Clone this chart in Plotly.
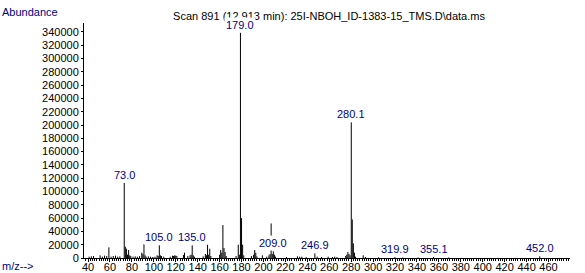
import plotly.graph_objects as go

# m/z values and abundances
mz = [41, 43, 45, 51, 53, 55, 57, 59, 61, 63, 65, 67, 69,
      73.0, 74, 75, 76, 77, 78, 79, 81, 83, 85, 87, 89, 90, 91, 92, 93, 95, 97, 99,
      101, 103, 104, 105.0, 106, 107, 109, 115, 117, 118, 119, 120, 121,
      127, 128, 131, 133, 134, 135.0, 136, 137, 145, 147, 148, 149, 150, 151, 152,
      160, 161, 162, 163, 164, 165, 166, 175, 177, 178, 179.0, 180, 181, 182,
      189, 191, 192, 193, 194, 199, 203, 205, 206, 207, 208, 209.0, 210, 211,
      221, 231, 233, 235, 239, 246.9, 249, 253, 259, 263, 265, 267,
      275, 276, 277, 278, 279, 280.1, 281, 282, 283, 284, 291, 293,
      305, 319.9, 327, 341, 355.1, 369, 452.0]
abundance = [2000, 2500, 3000, 4000, 2000, 3500, 3000, 16000, 2000, 3000, 3500, 2000, 2500,
             113000, 17000, 14000, 5000, 12000, 4000, 3000, 2000, 2500, 2000, 3000, 8000, 6000, 21000, 4000, 2000, 2500, 2000, 1500,
             2000, 4000, 3000, 19000, 4000, 3000, 2000, 2000, 3500, 3000, 4000, 3500, 3000,
             4500, 8000, 3000, 4000, 5000, 19000, 4000, 2000, 2500, 6000, 4000, 20000, 5000, 14000, 3000,
             5000, 12000, 8000, 49500, 15000, 9000, 3000, 3000, 20000, 5000, 339000, 60000, 20000, 4000,
             3000, 5000, 12000, 8000, 2500, 4000, 2000, 4000, 6000, 52000, 6000, 10000, 5000, 2000,
             1500, 2500, 2000, 2000, 1500, 7000, 2000, 1500, 2000, 1500, 2000, 1500,
             3000, 5000, 9000, 6000, 4000, 204000, 58000, 22000, 8000, 2000, 4000, 1500,
             1000, 1500, 800, 800, 1500, 800, 2500]

labeled_mz = [73.0, 105.0, 135.0, 179.0, 209.0, 246.9, 280.1, 319.9, 355.1, 452.0]

y_ticks = list(range(0, 340001, 20000))
x_ticks = list(range(40, 461, 20))

title_text = "Scan 891 (12.913 min): 25I-NBOH_ID-1383-15_TMS.D\\data.ms"

NAVY = "#000080"
FONT = "Liberation Sans, Arial, sans-serif"

xs, ys = [], []
for m, a in zip(mz, abundance):
    xs += [m, m, None]
    ys += [0, a, None]

fig = go.Figure()
fig.add_trace(go.Scatter(x=xs, y=ys, mode="lines",
                         line=dict(color="black", width=1),
                         hoverinfo="skip", showlegend=False))

W, H = 585, 273
ML, MR, MT, MB = 84, 15, 23, 15
pw = W - ML - MR
ph = H - MT - MB

annotations = []
for lm in labeled_mz:
    a = abundance[mz.index(lm)]
    annotations.append(dict(x=lm, y=a, xref="x", yref="y", text=f"{lm:.1f}",
                            showarrow=False, yanchor="bottom", xanchor="center",
                            yshift=0, bgcolor="white", borderpad=1,
                            font=dict(family=FONT, size=11, color=NAVY)))

annotations.append(dict(x=-ML / pw, y=1 + (MT - 12) / ph, xref="paper", yref="paper",
                        text="Abundance", showarrow=False, xanchor="left", yanchor="middle",
                        font=dict(family=FONT, size=11, color=NAVY)))
annotations.append(dict(x=-ML / pw, y=-(266 - (H - MB)) / ph, xref="paper", yref="paper",
                        text="m/z-->", showarrow=False, xanchor="left", yanchor="middle",
                        font=dict(family=FONT, size=11, color=NAVY)))

fig.update_layout(
    width=W, height=H,
    margin=dict(l=ML, r=MR, t=MT, b=MB, pad=0, autoexpand=False),
    plot_bgcolor="white", paper_bgcolor="white",
    font=dict(family=FONT, size=11, color="black"),
    title=dict(text=title_text, x=329 / W, xref="container", xanchor="center",
               y=1 - 16 / H, yref="container", yanchor="middle", automargin=False,
               font=dict(family=FONT, size=11, color="black")),
    annotations=annotations,
    xaxis=dict(range=[36.3, 479.6], tickmode="array", tickvals=x_ticks,
               ticktext=[str(v) for v in x_ticks], automargin=False,
               showgrid=False, zeroline=False, showline=True, linecolor="black", linewidth=1,
               ticks="outside", ticklen=3, tickcolor="black", tickwidth=1,
               ticklabelstandoff=-4,
               minor=dict(tickmode="linear", tick0=0, dtick=2, ticklen=2, ticks="outside",
                          tickcolor="black", showgrid=False),
               tickfont=dict(family=FONT, size=11, color="black")),
    yaxis=dict(range=[0, 353500], tickmode="array", tickvals=y_ticks,
               ticktext=[str(v) for v in y_ticks], automargin=False,
               showgrid=False, zeroline=False, showline=True, linecolor="black", linewidth=1,
               ticks="outside", ticklen=2, tickcolor="black",
               tickfont=dict(family=FONT, size=11, color="black")),
)

fig.write_html("out.html")
